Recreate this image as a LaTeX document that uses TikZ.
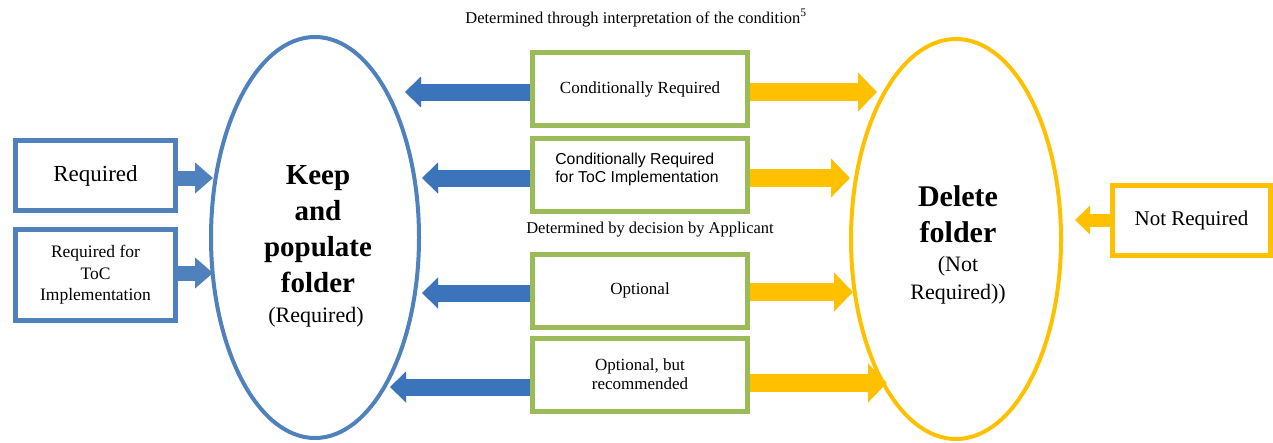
\documentclass[tikz,border=0pt]{standalone}
\usepackage{fontspec}
\setmainfont{Liberation Serif}
\newfontfamily\arialfont{Liberation Sans}
\usetikzlibrary{arrows.meta,shapes.geometric}
\pgfdeclarelayer{background}
\pgfsetlayers{background,main}
\definecolor{cblue}{HTML}{4F81BD}
\definecolor{cbluearr}{HTML}{3C74BB}
\definecolor{cyel}{HTML}{FFC000}
\definecolor{cgreen}{HTML}{9BBB59}
\begin{document}
\begin{tikzpicture}[x=1pt,y=-1pt,
  oval/.style={ellipse, line width=4pt, inner sep=0pt},
  greenbox/.style={draw=cgreen, fill=white, line width=5pt, minimum width=215pt, minimum height=73pt, inner sep=0pt, align=center, font=\fontsize{17}{19}\selectfont},
  bluebox/.style={draw=cblue, fill=white, line width=5pt, minimum width=160pt, inner sep=0pt, align=center},
  yelbox/.style={draw=cyel, fill=white, line width=5pt, minimum width=158pt, minimum height=70pt, inner sep=0pt, align=center},
  bigblue/.style={draw=cbluearr, line width=17pt, -{Triangle[length=16pt,width=30pt]}},
  bigshadow/.style={draw=black, opacity=0.22, line width=17pt, -{Triangle[length=16pt,width=30pt]}, shift={(2,3)}},
  bigyel/.style={draw=cyel, line width=18pt, -{Triangle[length=19pt,width=38pt]}},
  smallblue/.style={draw=cblue, line width=15pt, -{Triangle[length=18pt,width=30pt]}},
  smallyel/.style={draw=cyel, line width=13pt, -{Triangle[length=15pt,width=28pt]}},
  caption/.style={font=\fontsize{16.5}{19}\selectfont, inner sep=0pt}
]
\useasboundingbox (0,0) rectangle (1273,442);

% ellipses
\node[oval, draw=cblue, minimum width=208pt, minimum height=401pt] (keep) at (315,237.5) {};
\node[oval, draw=cyel, minimum width=210pt, minimum height=400pt] (del) at (956,239) {};

\node[align=center, inner sep=0pt, font=\fontsize{29}{36}\selectfont\bfseries] (keeptxt) at (318,229) {Keep\\and\\populate\\folder};
\node[inner sep=0pt, font=\fontsize{22}{26}\selectfont] (keepreq) at (316,317) {(Required)};
\node[align=center, inner sep=0pt, font=\fontsize{30}{36}\selectfont\bfseries] (deltxt) at (958,214) {Delete\\folder};
\node[align=center, inner sep=0pt, font=\fontsize{22}{28}\selectfont] (delreq) at (958,280) {(Not\\Required))};

% green boxes
\node[greenbox] (g1) at (640,89) {Conditionally Required};
\node[greenbox] (g2) at (640,174.5) {};
\node[align=left, inner sep=0pt, font=\arialfont\fontsize{15.8}{17.5}\selectfont] (g2txt) at (637,169.5) {Conditionally Required\\for ToC Implementation};
\node[greenbox] (g3) at (640,290.5) {Optional};
\node[greenbox] (g4) at (640,374.5) {Optional, but\\recommended};

% left boxes
\node[bluebox, minimum height=70pt, font=\fontsize{23}{26}\selectfont] (r1) at (95.5,175.5) {Required};
\node[bluebox, minimum height=91pt, font=\fontsize{17.5}{21.5}\selectfont] (r2) at (95.5,275) {Required for\\ToC\\Implementation};

% right box
\node[yelbox, font=\fontsize{21}{24}\selectfont] (nr) at (1191.5,220.5) {Not Required};

% captions
\node[caption] (cap1) at (636,18) {Determined through interpretation of the condition\textsuperscript{5}};
\node[caption] (cap2) at (650,230) {Determined by decision by Applicant};

% arrow tips
\coordinate (t1) at (405,92);
\coordinate (t2) at (422,178);
\coordinate (t3) at (422,293);
\coordinate (t4) at (390,387);
\coordinate (u1) at (877,92);
\coordinate (u2) at (850,178);
\coordinate (u3) at (853,292);
\coordinate (u4) at (887,383);
\coordinate (ta) at (213,178);
\coordinate (tb) at (213,273);
\coordinate (v) at (1075,220);

\begin{pgfonlayer}{background}
\foreach \t/\g in {t1/g1,t2/g2,t3/g3,t4/g4}{
  \draw[bigshadow] (\t -| \g.west) -- (\t);
}
\foreach \t/\g in {t1/g1,t2/g2,t3/g3,t4/g4}{
  \draw[bigblue] (\t -| \g.west) -- (\t);
}
\foreach \u/\g in {u1/g1,u2/g2,u3/g3,u4/g4}{
  \draw[bigyel] (\u -| \g.east) -- (\u);
}
\draw[smallblue] (ta -| r1.east) -- (ta);
\draw[smallblue] (tb -| r2.east) -- (tb);
\draw[smallyel] (v -| nr.west) -- (v);
\end{pgfonlayer}
\end{tikzpicture}
\end{document}
